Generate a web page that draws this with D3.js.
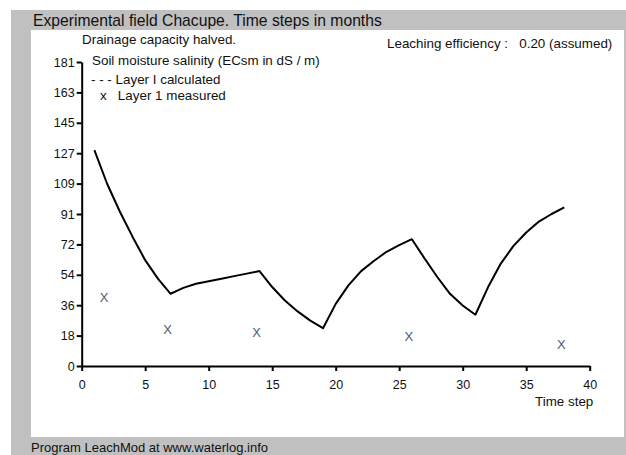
<!DOCTYPE html>
<html><head><meta charset="utf-8">
<script src="https://cdn.jsdelivr.net/npm/d3@7"></script>
<style>body{margin:0;background:#fff}svg{display:block}text{font-family:"Liberation Sans",Arial,sans-serif}</style>
</head><body>
<script>
const timeSteps = d3.range(1, 39);
const calculated = [128.5,108.5,92,77,63,52,43,46.5,49,50.5,52,53.5,55,56.5,47,39,32.5,27,22.5,37,48,56.5,62.5,68,72,75.5,64,53,43,36,30.5,47,61,71.5,79.5,86,90.5,94.5];
const measuredT = [2,7,14,26,38];
const measuredV = [41,22,20,17.5,13];
const xTicks = [0,5,10,15,20,25,30,35,40];
const yTicks = d3.range(0,11).map(i=>i*18.1);

const W=626,H=455;
const svg=d3.select("body").append("svg").attr("width",W).attr("height",H);
svg.append("rect").attr("x",11).attr("y",10).attr("width",W-11).attr("height",H-10).attr("fill","#c0c0c0");
svg.append("rect").attr("x",31).attr("y",30).attr("width",593).attr("height",407).attr("fill","#fff");
svg.append("text").attr("x",33).attr("y",26).attr("font-size",15.7).attr("fill","#111").text("Experimental field Chacupe. Time steps in months");
svg.append("text").attr("x",31).attr("y",452).attr("font-size",13).attr("fill","#111").text("Program LeachMod at www.waterlog.info");

const x=d3.scaleLinear().domain([0,40]).range([81.7,589.7]);
const y=d3.scaleLinear().domain([0,181]).range([366,62]);

const gx=svg.append("g").attr("transform","translate(0,366)")
  .call(d3.axisBottom(x).tickValues(xTicks).tickSize(5).tickSizeOuter(0).tickPadding(9));
const gy=svg.append("g").attr("transform","translate(81.7,0)")
  .call(d3.axisLeft(y).tickValues(yTicks).tickFormat(d=>Math.round(d)).tickSize(5).tickSizeOuter(0).tickPadding(2));
[gx,gy].forEach(g=>{
  g.select(".domain").attr("stroke","#000").attr("stroke-width",2);
  g.selectAll(".tick line").attr("stroke","#000").attr("stroke-width",2);
  g.selectAll(".tick text").attr("font-size",12.5).attr("fill","#111").attr("font-family","Liberation Sans, Arial, sans-serif");
});

const line=d3.line().x((d,i)=>x(timeSteps[i])).y(d=>y(d));
svg.append("path").datum(calculated).attr("d",line).attr("fill","none").attr("stroke","#000").attr("stroke-width",2).attr("stroke-linejoin","round");

svg.selectAll("text.meas").data(measuredT).enter().append("text").attr("class","meas")
  .attr("x",d=>x(d)-3).attr("y",(d,i)=>y(measuredV[i])).attr("dy","0.36em")
  .attr("text-anchor","middle").attr("font-size",13).attr("fill","#4e5a74").text("X");

const labels=[
  {x:82,y:44,t:"Drainage capacity halved."},
  {x:387,y:48,t:"Leaching efficiency :   0.20 (assumed)"},
  {x:92,y:65,t:"Soil moisture salinity (ECsm in dS / m)"},
  {x:91,y:84,t:"- - - Layer I calculated"},
  {x:100,y:100,t:"x   Layer 1 measured"},
  {x:535,y:406,t:"Time step"}
];
labels.forEach(l=>svg.append("text").attr("x",l.x).attr("y",l.y).attr("font-size",13.4).attr("fill","#111").attr("xml:space","preserve").style("white-space","pre").text(l.t));
</script>
</body></html>
